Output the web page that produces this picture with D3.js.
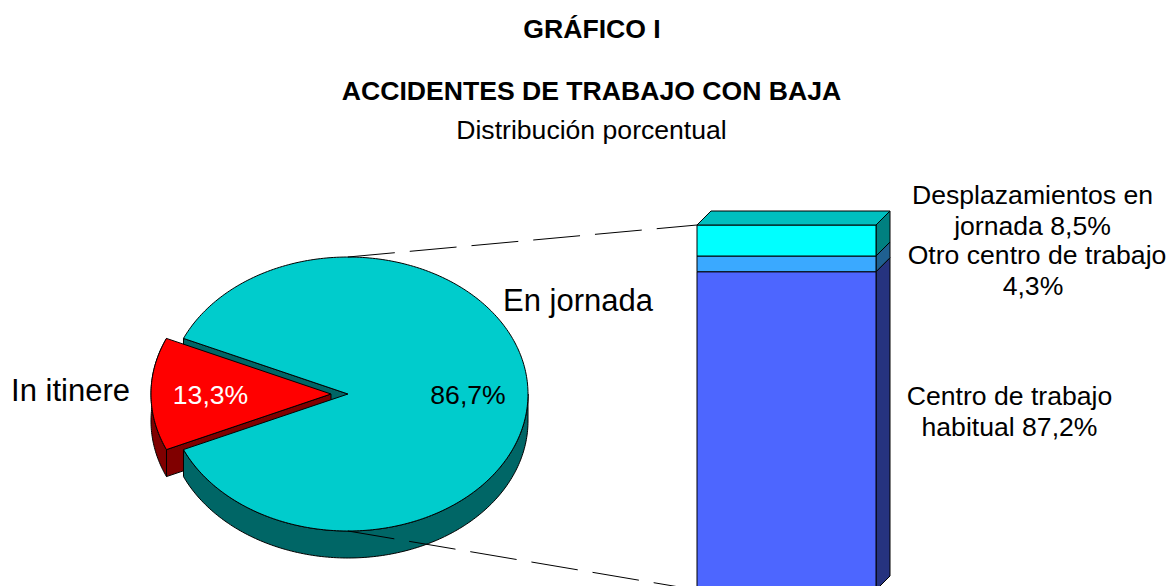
<!DOCTYPE html>
<html><head><meta charset="utf-8">
<script src="https://cdn.jsdelivr.net/npm/d3@7"></script>
<style>html,body{margin:0;padding:0;background:#fff;overflow:hidden}svg{display:block}text{font-family:"Liberation Sans",Arial,sans-serif;fill:#000}</style>
</head><body><svg id="c" width="1170" height="586"></svg>
<script>
const pieCategories = ["In itinere", "En jornada"];
const pieValues = [13.3, 86.7];
const pieLabels = ["13,3%", "86,7%"];
const barCategories = ["Centro de trabajo habitual", "Otro centro de trabajo", "Desplazamientos en jornada"];
const barValues = [87.2, 4.3, 8.5];
const barFront = ["#4D66FF", "#3AA9FF", "#00FFFF"];
const barSide = ["#26337F", "#1F6090", "#008080"];
const barTop = "#00BFBF";

const svg = d3.select("#c");
const cx = 348, cy = 394, rx = 180, ry = 137, depth = 27, explode = 17;
const pt = (a, ox=0, oy=0) => [cx+ox+rx*Math.sin(a), cy+oy-ry*Math.cos(a)];
const line = d3.line();
const half = pieValues[0]/100*Math.PI;
const pieArcs = d3.pie().value(d=>d).sort(null).startAngle(1.5*Math.PI-half).endAngle(3.5*Math.PI-half)(pieValues);
const arcPts = (a0,a1,ox=0,oy=0,n=160)=>d3.range(n+1).map(i=>pt(a0+(a1-a0)*i/n,ox,oy));
const A = pieArcs[0], B = pieArcs[1];
function draw(points, fill){
  return svg.append("path").attr("d", line(points)+"Z").attr("fill",fill).attr("stroke","#000").attr("stroke-width",1).attr("stroke-linejoin","round");
}
const teal="#00CCCC", dteal="#006666", red="#FF0000", dred="#800000";
draw([pt(B.startAngle), [cx,cy],[cx,cy+depth], pt(B.startAngle,0,depth)], dteal);
draw([[cx-explode,cy], pt(A.startAngle,-explode), pt(A.startAngle,-explode,depth), [cx-explode,cy+depth]], dred);
draw([...arcPts(A.startAngle,A.endAngle,-explode,0,60), ...arcPts(A.endAngle,A.startAngle,-explode,depth,60)], dred);
const wallStart = Math.PI/2, wallEnd = A.startAngle;
draw([...arcPts(wallStart,wallEnd,0,0), ...arcPts(wallEnd,wallStart,0,depth)], dteal);
draw([[cx,cy], ...arcPts(B.startAngle,B.endAngle,0,0,300)], teal);
draw([[cx-explode,cy], ...arcPts(A.startAngle,A.endAngle,-explode,0,60)], red);

const y = d3.scaleLinear().domain([0,100]).range([590,225]);
const bx0=697, bx1=876, d3x=14;
let acc=0;
const stack = barValues.map((v,i)=>{const s={v,i,y0:acc,y1:acc+v};acc+=v;return s;});
stack.forEach(s=>{
  draw([[bx1,y(s.y0)],[bx1+d3x,y(s.y0)-d3x],[bx1+d3x,y(s.y1)-d3x],[bx1,y(s.y1)]], barSide[s.i]);
  draw([[bx0,y(s.y0)],[bx1,y(s.y0)],[bx1,y(s.y1)],[bx0,y(s.y1)]], barFront[s.i]);
});
draw([[bx0,y(100)],[bx0+d3x,y(100)-d3x],[bx1+d3x,y(100)-d3x],[bx1,y(100)]], barTop);

const conn = (p,q)=>svg.append("line").attr("x1",p[0]).attr("y1",p[1]).attr("x2",q[0]).attr("y2",q[1]).attr("stroke","#000").attr("stroke-width",1).attr("stroke-dasharray","47 15");
conn([cx,cy-ry],[bx0,y(100)]);
conn([cx,cy+ry],[bx0,y(0)]);

const T=(s,x,yy,size,opt={})=>svg.append("text").attr("x",x).attr("y",yy).attr("font-size",size).attr("text-anchor",opt.a||"middle").attr("font-weight",opt.b?"bold":"normal").style("fill",opt.f||"#000").text(s);
T("GRÁFICO I",592,38,26.6,{b:1});
T("ACCIDENTES DE TRABAJO CON BAJA",591.5,100,26.6,{b:1});
T("Distribución porcentual",591.5,139,26.6);
T(pieCategories[1],578,311,31);
T(pieCategories[0],70.5,401,31);
T(pieLabels[0],210.5,404,26.6,{f:"#fff"});
T(pieLabels[1],468,404,26.6);
T("Desplazamientos en",1032.5,204,26.6);
T("jornada 8,5%",1032.5,235,26.6);
T("Otro centro de trabajo",1037,264,26.6);
T("4,3%",1033,295,26.6);
T("Centro de trabajo",1009.5,405,26.6);
T("habitual 87,2%",1009.5,436,26.6);
</script></body></html>
